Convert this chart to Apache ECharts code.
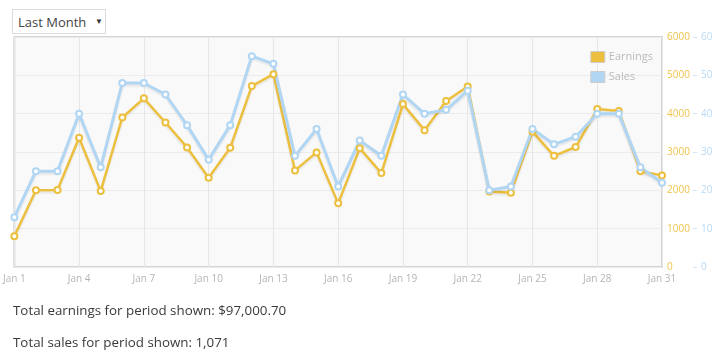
<!DOCTYPE html>
<html>
<head>
<meta charset="utf-8">
<script src="https://cdn.jsdelivr.net/npm/echarts@6/dist/echarts.min.js"></script>
<style>
  html, body { margin: 0; padding: 0; background: #fff; }
  #wrap { position: relative; width: 725px; height: 357px; overflow: hidden; font-family: "Open Sans", sans-serif; }
  #chart { position: absolute; left: 0; top: 0; width: 725px; height: 357px; }
  #sel { position: absolute; left: 12px; top: 9px; width: 92px; height: 23px; border: 1px solid #dcdcdc; background: #fff; box-sizing: content-box; }
  #sel .t { position: absolute; left: 5px; top: 3px; font-size: 13px; color: #444; }
  #sel .a { position: absolute; left: 82px; top: 5px; font-size: 8px; color: #333; }
  .tot { position: absolute; left: 13px; font-size: 13.35px; color: #3a3a3a; white-space: nowrap; }
</style>
</head>
<body>
<div id="wrap">
  <div id="chart"></div>
  <div id="sel"><span class="t">Last Month</span><span class="a">&#9660;</span></div>
  <div class="tot" id="tot1" style="top:301px;"></div>
  <div class="tot" id="tot2" style="top:333px;"></div>
</div>
<script>
const categories = ["Jan 1","Jan 2","Jan 3","Jan 4","Jan 5","Jan 6","Jan 7","Jan 8","Jan 9","Jan 10",
  "Jan 11","Jan 12","Jan 13","Jan 14","Jan 15","Jan 16","Jan 17","Jan 18","Jan 19","Jan 20",
  "Jan 21","Jan 22","Jan 23","Jan 24","Jan 25","Jan 26","Jan 27","Jan 28","Jan 29","Jan 30","Jan 31"];
const earnings = [800,2000,2010,3370,1980,3900,4400,3770,3120,2330,
  3110,4720,5030,2520,2990,1660,3100,2450,4250,3570,
  4330,4710,1970,1940,3530,2900,3130,4120,4070,2500,2390];
const sales = [13,25,25,40,26,48,48,45,37,28,
  37,55,53,29,36,21,33,29,45,40,
  41,46,20,21,36,32,34,40,40,26,22];
const seriesNames = ["Earnings","Sales"];
const totalEarningsText = "Total earnings for period shown: $97,000.70";
const totalSalesText = "Total sales for period shown: 1,071";

document.getElementById('tot1').textContent = totalEarningsText;
document.getElementById('tot2').textContent = totalSalesText;

const yellow = '#ecbf3f';
const blue = '#b1d6f3';
const chart = echarts.init(document.getElementById('chart'));
chart.setOption({
  animation: false,
  textStyle: { fontFamily: '"Open Sans", sans-serif' },
  grid: { left: 12, right: 63, top: 37, bottom: 90, show: true, backgroundColor: '#f9f9f9', borderColor: '#d4d4d4', borderWidth: 2 },
  legend: {
    orient: 'vertical', right: 67, top: 46, itemWidth: 14, itemHeight: 11, itemGap: 8,
    icon: 'rect',
    textStyle: { color: '#bbb', fontSize: 11, padding: [0, 0, 0, -1] },
    data: [
      { name: seriesNames[0], itemStyle: { color: yellow, borderColor: '#ccc', borderWidth: 1 } },
      { name: seriesNames[1], itemStyle: { color: blue, borderColor: '#ccc', borderWidth: 1 } }
    ]
  },
  xAxis: {
    type: 'category', data: categories, boundaryGap: false,
    axisLine: { show: false }, axisTick: { show: false },
    axisLabel: { interval: 2, color: '#b5b5b5', fontSize: 10, margin: 7 },
    splitLine: { show: true, interval: 2, lineStyle: { color: '#e6e6e6', width: 1 } }
  },
  yAxis: [
    { type: 'value', position: 'right', min: 0, max: 6000, interval: 1000,
      axisLine: { show: false }, axisTick: { show: false },
      axisLabel: { color: '#f0c34d', fontSize: 10, margin: 5, formatter: v => String(v) },
      splitLine: { show: true, lineStyle: { color: '#ececec', width: 1 } } },
    { type: 'value', position: 'right', offset: 31, min: 0, max: 60, interval: 10,
      axisLine: { show: false },
      axisTick: { show: true, length: 4, lineStyle: { color: '#cfe5f7' } },
      axisLabel: { color: '#b8daf6', fontSize: 10, margin: 8, formatter: v => String(v) },
      splitLine: { show: false } }
  ],
  series: [
    { name: seriesNames[0], type: 'line', yAxisIndex: 0, data: earnings,
      symbol: 'emptyCircle', symbolSize: 6,
      lineStyle: { color: yellow, width: 2.5, shadowColor: 'rgba(0,0,0,0.08)', shadowBlur: 2, shadowOffsetY: 2 },
      itemStyle: { color: yellow, borderColor: yellow, borderWidth: 2 } },
    { name: seriesNames[1], type: 'line', yAxisIndex: 1, data: sales,
      symbol: 'emptyCircle', symbolSize: 6,
      lineStyle: { color: blue, width: 3, shadowColor: 'rgba(0,0,0,0.08)', shadowBlur: 2, shadowOffsetY: 2 },
      itemStyle: { color: blue, borderColor: blue, borderWidth: 2 } }
  ]
});
</script>
</body>
</html>
